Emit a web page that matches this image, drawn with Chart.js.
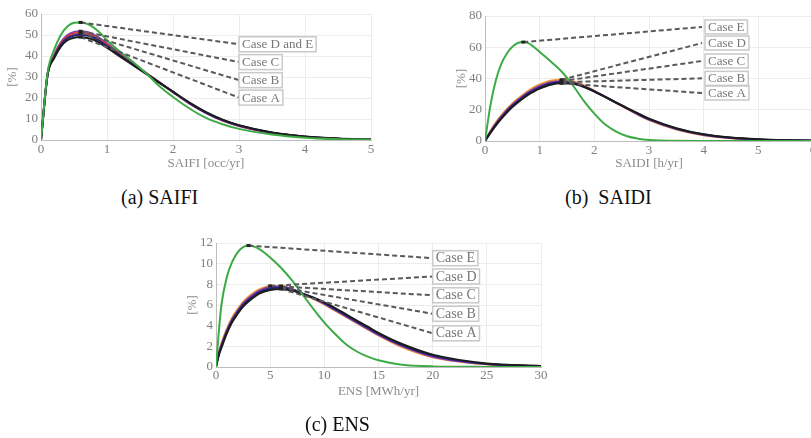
<!DOCTYPE html>
<html><head><meta charset="utf-8">
<script src="https://cdn.jsdelivr.net/npm/chart.js@4.4.1/dist/chart.umd.min.js"></script>
<style>
html,body{margin:0;padding:0;width:811px;height:438px;overflow:hidden;background:#fff;}
#wrap{position:relative;width:811px;height:438px;overflow:hidden;}
canvas{position:absolute;}
.cap{position:absolute;font-family:"Liberation Serif","Times New Roman",Tinos,"Nimbus Roman","DejaVu Serif",serif;font-size:20px;line-height:22px;color:#111;white-space:pre;}
</style></head><body>
<div id="wrap">
<canvas id="ca" width="380" height="170" style="left:0px;top:0px"></canvas>
<canvas id="cb" width="375" height="170" style="left:448px;top:0px"></canvas>
<canvas id="cc" width="370" height="200" style="left:180px;top:225px"></canvas>
<div class="cap" style="left:121px;top:186px">(a) SAIFI</div>
<div class="cap" style="left:565px;top:186px">(b)  SAIDI</div>
<div class="cap" style="left:305px;top:413px">(c) ENS</div>
</div>
<script>
// ---------- (a) SAIFI ----------
const saifiX      = [0,0.1,0.2,0.3,0.4,0.5,0.6,0.7,0.8,0.9,1.0,1.2,1.4,1.6,1.8,2.0,2.25,2.5,2.75,3.0,3.5,4.0,4.5,5.0];
const saifiGreen  = [0,32,43,50,54,55.8,56,55.3,53.5,50.8,47.5,42,37,31.5,25.5,20.5,15,10.5,7.5,5.3,2.6,1.1,0.4,0.1];
const saifiPurple = [0,31.5,40.5,46.5,50,51.5,51.8,51.4,50.2,48.3,46,41,36.3,31.8,27.3,22.8,17.3,12.8,9.2,6.6,3.3,1.5,0.6,0.2];
const saifiRed    = [0,31.5,40,46,49.3,50.7,51,50.6,49.5,47.6,45.4,40.6,36.1,31.7,27.3,22.9,17.5,13,9.4,6.8,3.4,1.6,0.6,0.2];
const saifiNavy   = [0,31.2,39.5,45.3,48.5,49.8,50.1,49.7,48.7,46.9,44.8,40.2,35.8,31.5,27.2,22.9,17.6,13.1,9.5,6.9,3.5,1.6,0.65,0.22];
const saifiBlack  = [0,31,39,44.5,47.5,48.7,49,48.6,47.7,46,44,39.7,35.5,31.3,27.1,23,17.8,13.3,9.7,7.1,3.6,1.7,0.7,0.25];
const saifiXTicks = [0,1,2,3,4,5];
const saifiYTicks = [0,10,20,30,40,50,60];
const saifiLabels = ['Case D and E','Case C','Case B','Case A'];

// ---------- (b) SAIDI ----------
const saidiX      = [0,0.1,0.2,0.3,0.4,0.5,0.6,0.7,0.8,0.9,1.0,1.2,1.4,1.6,1.8,2.0,2.2,2.4,2.6,2.8,3.0,3.5,4,4.5,5,5.5,6];
const saidiCaseE  = [0,23,39,49.5,56,60.3,62.7,63.3,62.5,60,57,51,44.5,36,26,17.5,10.5,6,3,1.5,0.7,0.1,0.02,0,0,0,0];
const saidiCaseD  = [0,6.5,12,16.5,20.5,24,27,29.8,32.3,34.5,36.2,38.6,39.2,38.3,35.8,32.1,28.2,24.3,20.5,16.8,13.4,7.4,3.7,1.8,0.85,0.4,0.18];
const saidiCaseC  = [0,6,11.2,15.7,19.7,23.2,26.2,29,31.4,33.5,35.2,37.6,38.3,37.6,35.3,31.9,28.2,24.4,20.7,17,13.7,7.7,3.9,1.95,0.95,0.45,0.2];
const saidiCaseB  = [0,5.6,10.6,15,19,22.5,25.5,28.2,30.6,32.6,34.3,36.8,37.6,37.1,35,31.8,28.2,24.5,20.9,17.3,14,7.9,4.1,2.05,1.0,0.48,0.22];
const saidiCaseA  = [0,5.2,10,14.3,18.2,21.7,24.7,27.4,29.8,31.8,33.5,36,36.9,36.6,34.7,31.7,28.2,24.6,21.1,17.6,14.3,8.2,4.3,2.2,1.1,0.52,0.24];
const saidiXTicks = [0,1,2,3,4,5,6];
const saidiYTicks = [0,20,40,60,80];
const saidiLabels = ['Case E','Case D','Case C','Case B','Case A'];

// ---------- (c) ENS ----------
const ensX        = [0,0.25,0.5,1,1.5,2,2.5,3,3.5,4,5,6,7,8,9,10,11,12,13,14,15,17,20,25,30];
const ensCaseE    = [0,3.3,6,8.7,10.2,11.1,11.6,11.75,11.65,11.4,10.6,9.6,8.4,7.0,5.6,4.3,3.2,2.2,1.5,1.0,0.65,0.25,0.06,0.01,0];
const ensCaseD    = [0,1.4,2.3,3.7,4.8,5.6,6.3,6.8,7.2,7.5,7.85,7.85,7.55,7.1,6.6,6.05,5.45,4.85,4.25,3.65,3.05,2.0,0.95,0.25,0.06];
const ensCaseC    = [0,1.3,2.15,3.55,4.65,5.45,6.15,6.65,7.05,7.4,7.75,7.8,7.55,7.1,6.65,6.1,5.5,4.9,4.3,3.7,3.1,2.1,1.0,0.28,0.07];
const ensCaseB    = [0,1.2,2.0,3.4,4.5,5.3,6.0,6.5,6.9,7.25,7.6,7.7,7.5,7.1,6.7,6.2,5.6,5.0,4.4,3.8,3.2,2.2,1.1,0.3,0.08];
const ensCaseA    = [0,1.1,1.85,3.25,4.35,5.15,5.85,6.35,6.75,7.1,7.45,7.55,7.4,7.05,6.7,6.25,5.7,5.1,4.5,3.9,3.3,2.3,1.2,0.35,0.1];
const ensXTicks   = [0,5,10,15,20,25,30];
const ensYTicks   = [0,2,4,6,8,10,12];
const ensLabels   = ['Case E','Case D','Case C','Case B','Case A'];

const COL = {green:'#3dab45', purple:'#8a3fb0', red:'#d23b3b', navy:'#23237a', black:'#1c1c1c', orange:'#f39a2b'};
const FONT = '"Liberation Serif", "Times New Roman", Tinos, "Nimbus Roman", "DejaVu Serif", serif';

const calloutPlugin = {
  id: 'callouts',
  afterDatasetsDraw(chart, args, opts) {
    const {ctx} = chart; const xs = chart.scales.x, ys = chart.scales.y;
    ctx.save();
    (opts.items || []).forEach(it => {
      const d = chart.data.datasets[it.ds].data;
      let pk = d[0]; d.forEach(p => { if (p.y > pk.y) pk = p; });
      const x0 = xs.getPixelForValue(pk.x), y0 = ys.getPixelForValue(pk.y);
      const x1 = xs.getPixelForValue(it.at[0]), y1 = ys.getPixelForValue(it.at[1]);
      ctx.setLineDash([5, 3]); ctx.lineWidth = 2; ctx.strokeStyle = '#595959';
      ctx.beginPath(); ctx.moveTo(x0, y0); ctx.lineTo(x1, y1); ctx.stroke();
      ctx.setLineDash([]);
      ctx.fillStyle = '#222'; ctx.fillRect(x0 - 2, y0 - 1.5, 4, 3);
      ctx.font = opts.fontSize + 'px ' + FONT;
      const w = ctx.measureText(it.text).width + 6, h = opts.boxH;
      const bx = x1 + (opts.gap || 0), by = y1 - h / 2;
      ctx.fillStyle = '#fff'; ctx.fillRect(bx, by, w, h);
      ctx.strokeStyle = '#c9c9c9'; ctx.lineWidth = 1.5; ctx.strokeRect(bx, by, w, h);
      ctx.fillStyle = '#777'; ctx.textBaseline = 'middle'; ctx.textAlign = 'left';
      ctx.fillText(it.text, bx + 3, y1 + 0.5);
    });
    ctx.restore();
  }
};

function build(id, xs, series, c) {
  const datasets = series.map(s => ({
    data: xs.map((v, i) => ({x: v, y: s.v[i]})),
    borderColor: s.c, borderWidth: 2, pointRadius: 0, fill: false,
    cubicInterpolationMode: 'monotone'
  }));
  const tickFont = {family: FONT, size: 13};
  const titleFont = {family: FONT, size: 13, lineHeight: 1};
  new Chart(document.getElementById(id), {
    type: 'line',
    data: {datasets},
    options: {
      responsive: false, animation: false, devicePixelRatio: 1,
      layout: {padding: c.pad},
      plugins: {legend: {display: false}, tooltip: {enabled: false},
        callouts: {items: c.items, fontSize: c.fs, boxH: c.bh, gap: c.gap}},
      scales: {
        x: {type: 'linear', min: c.xt[0], max: c.xt[c.xt.length - 1],
          afterBuildTicks: s => { s.ticks = c.xt.map(v => ({value: v})); },
          afterFit: s => { s.height = c.xh; },
          grid: {color: '#ececec', drawTicks: false}, border: {color: '#bdbdbd'},
          ticks: {padding: c.xtp, color: '#7f7f7f', font: tickFont, maxRotation: 0, autoSkip: false},
          title: {display: true, text: c.xtitle, color: '#8c8c8c', font: titleFont, padding: {top: 0, bottom: c.xtb}}},
        y: {type: 'linear', min: c.yt[0], max: c.yt[c.yt.length - 1],
          afterBuildTicks: s => { s.ticks = c.yt.map(v => ({value: v})); },
          afterFit: s => { s.width = c.yw; },
          grid: {color: '#ececec', drawTicks: false}, border: {color: '#bdbdbd'},
          ticks: {padding: 3, color: '#7f7f7f', font: tickFont, autoSkip: false},
          title: {display: true, text: '[%]', color: '#8c8c8c', font: titleFont, padding: {top: c.ytp, bottom: 0}}}
      }
    },
    plugins: [calloutPlugin]
  });
}

build('ca', saifiX, [
  {v: saifiGreen, c: COL.green}, {v: saifiBlack, c: COL.black}, {v: saifiNavy, c: COL.navy},
  {v: saifiRed, c: COL.red}, {v: saifiPurple, c: COL.purple}
], {pad: {left: 0, right: 9, top: 14, bottom: 0}, xh: 30, yw: 41, xtp: 2, xtb: 0, ytp: 6,
  xt: saifiXTicks, yt: saifiYTicks, xtitle: 'SAIFI [occ/yr]', fs: 13, bh: 15, gap: 0,
  items: [
    {ds: 0, text: saifiLabels[0], at: [3.0, 45.6]},
    {ds: 4, text: saifiLabels[1], at: [3.0, 37.1]},
    {ds: 3, text: saifiLabels[2], at: [3.0, 28.5]},
    {ds: 1, text: saifiLabels[3], at: [3.0, 20.2]}
  ]});

build('cb', saidiX, [
  {v: saidiCaseE, c: COL.green}, {v: saidiCaseA, c: COL.black}, {v: saidiCaseB, c: COL.navy},
  {v: saidiCaseC, c: COL.purple}, {v: saidiCaseD, c: COL.orange}
], {pad: {left: 0, right: 10, top: 16, bottom: 0}, xh: 29, yw: 37, xtp: 2, xtb: 0, ytp: 7,
  xt: saidiXTicks, yt: saidiYTicks, xtitle: 'SAIDI [h/yr]', fs: 13, bh: 14, gap: 3,
  items: [
    {ds: 0, text: saidiLabels[0], at: [3.97, 73]},
    {ds: 4, text: saidiLabels[1], at: [3.97, 62.7]},
    {ds: 3, text: saidiLabels[2], at: [3.97, 51.2]},
    {ds: 2, text: saidiLabels[3], at: [3.97, 40.1]},
    {ds: 1, text: saidiLabels[4], at: [3.97, 30.7]}
  ]});

build('cc', ensX, [
  {v: ensCaseE, c: COL.green}, {v: ensCaseA, c: COL.black}, {v: ensCaseB, c: COL.navy},
  {v: ensCaseC, c: COL.purple}, {v: ensCaseD, c: COL.orange}
], {pad: {left: 0, right: 9, top: 18, bottom: 0}, xh: 58, yw: 36, xtp: 1, xtb: 27, ytp: 6,
  xt: ensXTicks, yt: ensYTicks, xtitle: 'ENS [MWh/yr]', fs: 14, bh: 15, gap: 0,
  items: [
    {ds: 0, text: ensLabels[0], at: [20, 10.53]},
    {ds: 4, text: ensLabels[1], at: [20, 8.76]},
    {ds: 3, text: ensLabels[2], at: [20, 6.94]},
    {ds: 2, text: ensLabels[3], at: [20, 5.15]},
    {ds: 1, text: ensLabels[4], at: [20, 3.26]}
  ]});
</script>
</body></html>
